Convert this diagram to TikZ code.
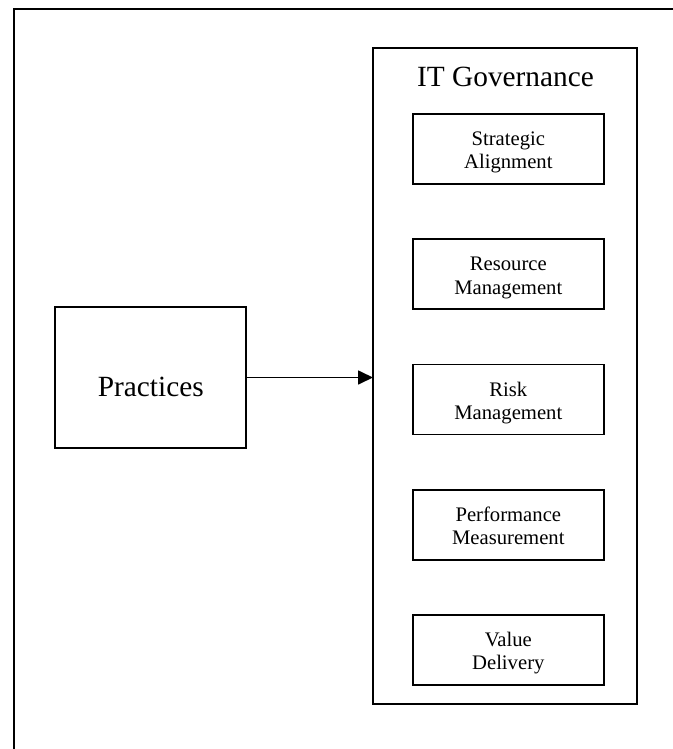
\documentclass[tikz,border=0pt]{standalone}
\usepackage{fontspec}
\setmainfont{Liberation Serif}
\usetikzlibrary{arrows.meta,calc}
\tikzset{
  frameline/.style={line width=1.5pt, line cap=butt},
  bigbox/.style={draw, line width=1.3pt, inner sep=0pt, outer sep=0pt},
  subbox/.style={draw, line width=1.3pt, inner sep=0pt, outer sep=0pt,
                 minimum width=143.5pt, minimum height=52.5pt},
  sublbl/.style={anchor=base, inner sep=0pt, font=\fontsize{15.5pt}{17.5pt}\selectfont},
  biglbl/.style={anchor=base, inner sep=0pt, font=\fontsize{22pt}{26pt}\selectfont},
  arr/.style={line width=1.3pt, -{Triangle[length=11.25pt,width=10.5pt]}}
}
\begin{document}
\begin{tikzpicture}[x=0.75pt,y=-0.75pt]
\useasboundingbox (0,0) rectangle (673,749);
% outer frame (open right and bottom)
\draw[frameline] (673,9.5) -- (13.5,9.5) -- (13.5,749);
% Practices
\node[bigbox, minimum width=143.25pt, minimum height=105.75pt] (practices) at (150.5,377.5) {};
\node[biglbl] (practiceslbl) at (150.8,396) {Practices};
% IT Governance container
\node[bigbox, minimum width=198pt, minimum height=492.2pt] (itgov) at (505,376.15) {};
\node[biglbl] (itgovlbl) at (505.5,86.7) {IT Governance};
% sub boxes
\node[subbox] (sa) at (508.3,149) {};
\node[subbox] (rm) at (508.3,274.25) {};
\node[subbox] (risk) at (508.3,399.5) {};
\node[subbox] (pm) at (508.3,524.75) {};
\node[subbox] (vd) at (508.3,650) {};
\node[sublbl] (sa1) at ($(sa.center)+(0,-3.5)$) {Strategic};
\node[sublbl] (sa2) at ($(sa.center)+(0,19.8)$) {Alignment};
\node[sublbl] (rm1) at ($(rm.center)+(0,-3.5)$) {Resource};
\node[sublbl] (rm2) at ($(rm.center)+(0,19.8)$) {Management};
\node[sublbl] (risk1) at ($(risk.center)+(0,-3.5)$) {Risk};
\node[sublbl] (risk2) at ($(risk.center)+(0,19.8)$) {Management};
\node[sublbl] (pm1) at ($(pm.center)+(0,-3.5)$) {Performance};
\node[sublbl] (pm2) at ($(pm.center)+(0,19.8)$) {Measurement};
\node[sublbl] (vd1) at ($(vd.center)+(0,-3.5)$) {Value};
\node[sublbl] (vd2) at ($(vd.center)+(0,19.8)$) {Delivery};
% connector
\draw[arr] (practices.east) -- (practices.east -| itgov.west);
\end{tikzpicture}
\end{document}
